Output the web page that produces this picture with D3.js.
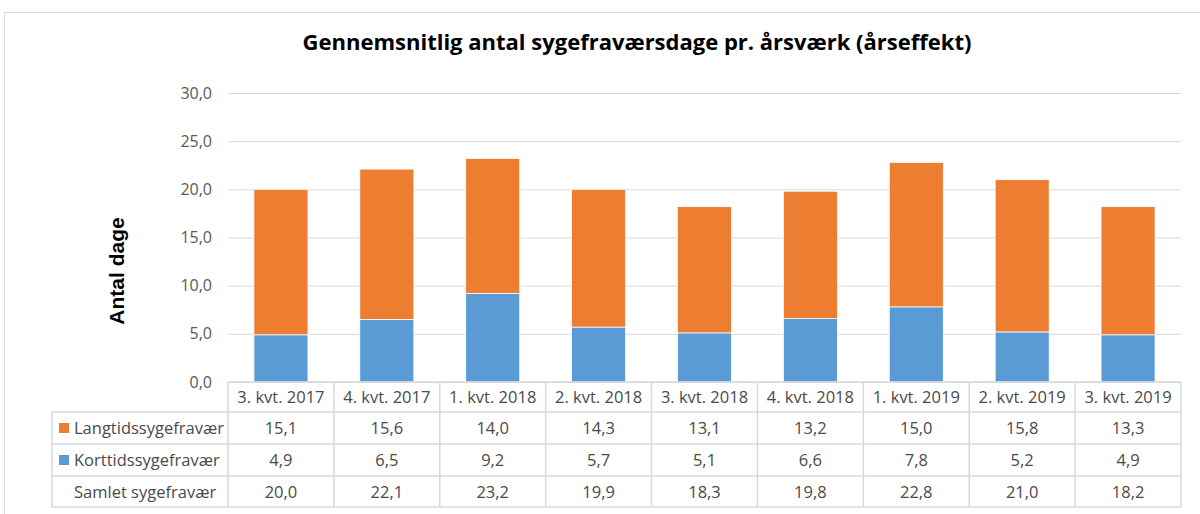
<!DOCTYPE html>
<html>
<head>
<meta charset="utf-8">
<script src="https://cdn.jsdelivr.net/npm/d3@7"></script>
<style>
  body { margin: 0; background: #fff; }
  svg { display: block; font-family: "Open Sans", "Noto Sans", sans-serif; }
</style>
</head>
<body>
<svg id="chart" width="1200" height="514"></svg>
<script>
// quarters shown along the x axis / table header
var quarters = ["3. kvt. 2017", "4. kvt. 2017", "1. kvt. 2018", "2. kvt. 2018", "3. kvt. 2018",
                "4. kvt. 2018", "1. kvt. 2019", "2. kvt. 2019", "3. kvt. 2019"];
var langtid = [15.1, 15.6, 14.0, 14.3, 13.1, 13.2, 15.0, 15.8, 13.3];
var korttid = [4.9, 6.5, 9.2, 5.7, 5.1, 6.6, 7.8, 5.2, 4.9];
var samlet = [20.0, 22.1, 23.2, 19.9, 18.3, 19.8, 22.8, 21.0, 18.2];
var yTicks = [0, 5, 10, 15, 20, 25, 30];

var svg = d3.select("#chart");
var plotLeft = 228, plotRight = 1181, plotTop = 93, plotBottom = 382;
var legLeft = 52;

// chart frame (runs off the right and bottom edge)
svg.append("rect")
    .attr("x", 4.5).attr("y", 12.5)
    .attr("width", 1220).attr("height", 520)
    .attr("fill", "none").attr("stroke", "#d9d9d9");

svg.append("text")
    .attr("x", 637).attr("y", 50)
    .attr("text-anchor", "middle")
    .attr("font-size", 22).attr("font-weight", "bold")
    .attr("fill", "#000")
    .text("Gennemsnitlig antal sygefraværsdage pr. årsværk (årseffekt)");

var x = d3.scaleBand().domain(quarters).range([plotLeft, plotRight]).paddingInner(0).paddingOuter(0);
var y = d3.scaleLinear().domain([0, 30]).range([plotBottom, plotTop]);

// gridlines
svg.append("g").selectAll("line")
    .data(yTicks)
    .join("line")
    .attr("x1", plotLeft).attr("x2", plotRight)
    .attr("y1", function(d) { return y(d) + 0.5; })
    .attr("y2", function(d) { return y(d) + 0.5; })
    .attr("stroke", "#d9d9d9");

// y axis labels
var yAxis = d3.axisLeft(y).tickValues(yTicks).tickSize(0).tickPadding(16)
    .tickFormat(function(d) { return d3.format(".1f")(d).replace(".", ","); });
var gy = svg.append("g").attr("transform", "translate(" + plotLeft + ",0)").call(yAxis);
gy.select(".domain").remove();
gy.selectAll("text").attr("font-size", 16).attr("fill", "#595959")
    .attr("font-family", "'Open Sans', sans-serif");

svg.append("text")
    .attr("transform", "translate(124,271) rotate(-90)")
    .attr("text-anchor", "middle")
    .attr("font-family", "'Liberation Sans', Arial, sans-serif")
    .attr("font-size", 21).attr("font-weight", "bold")
    .text("Antal dage");

// stacked bars
var barW = x.bandwidth() * 0.51;
function barX(d, i) { return x(quarters[i]) + (x.bandwidth() - barW) / 2; }

svg.append("g").selectAll("rect")
    .data(korttid)
    .join("rect")
    .attr("x", barX)
    .attr("width", barW)
    .attr("y", function(d) { return y(d); })
    .attr("height", function(d) { return y(0) - y(d); })
    .attr("fill", "#5b9bd5")
    .attr("stroke", "#fff").attr("stroke-width", 0.75);

svg.append("g").selectAll("rect")
    .data(langtid)
    .join("rect")
    .attr("x", barX)
    .attr("width", barW)
    .attr("y", function(d, i) { return y(korttid[i] + d); })
    .attr("height", function(d) { return y(0) - y(d); })
    .attr("fill", "#ed7d31")
    .attr("stroke", "#fff").attr("stroke-width", 0.75);

// data table below the plot
var rowY = [plotBottom, 412, 444, 476, 507];
var rows = [
  { name: "Langtidssygefravær", color: "#ed7d31", values: langtid },
  { name: "Korttidssygefravær", color: "#5b9bd5", values: korttid },
  { name: "Samlet sygefravær", color: null, values: samlet }
];
var fmt = function(v) { return d3.format(".1f")(v).replace(".", ","); };
var tg = svg.append("g").attr("stroke", "#d9d9d9").attr("stroke-width", 1.5);

// horizontal lines
tg.append("line").attr("x1", plotLeft).attr("x2", plotRight).attr("y1", rowY[0]).attr("y2", rowY[0]);
for (var r = 1; r < rowY.length; r++) {
  tg.append("line").attr("x1", legLeft).attr("x2", plotRight).attr("y1", rowY[r]).attr("y2", rowY[r]);
}
// vertical lines
quarters.forEach(function(q) {
  tg.append("line").attr("x1", x(q)).attr("x2", x(q)).attr("y1", rowY[0]).attr("y2", rowY[4]);
});
tg.append("line").attr("x1", plotRight).attr("x2", plotRight).attr("y1", rowY[0]).attr("y2", rowY[4]);
tg.append("line").attr("x1", legLeft).attr("x2", legLeft).attr("y1", rowY[1]).attr("y2", rowY[4]);

var txt = svg.append("g").attr("font-size", 16.5).attr("fill", "#4a4a4a");
txt.selectAll("text.hdr")
    .data(quarters)
    .join("text")
    .attr("class", "hdr")
    .attr("x", function(d) { return x(d) + x.bandwidth() / 2; })
    .attr("y", (rowY[0] + rowY[1]) / 2 + 6)
    .attr("text-anchor", "middle")
    .text(function(d) { return d; });

rows.forEach(function(row, ri) {
  var cy = (rowY[ri + 1] + rowY[ri + 2]) / 2;
  if (row.color) {
    svg.append("rect").attr("x", 59).attr("y", cy - 5).attr("width", 10).attr("height", 10)
        .attr("fill", row.color);
  }
  txt.append("text")
      .attr("x", 74).attr("y", cy + 6)
      .text(row.name);
  txt.selectAll("text.v" + ri)
      .data(row.values)
      .join("text")
      .attr("class", "v" + ri)
      .attr("x", function(d, i) { return x(quarters[i]) + x.bandwidth() / 2; })
      .attr("y", cy + 6)
      .attr("text-anchor", "middle")
      .text(fmt);
});
</script>
</body>
</html>
